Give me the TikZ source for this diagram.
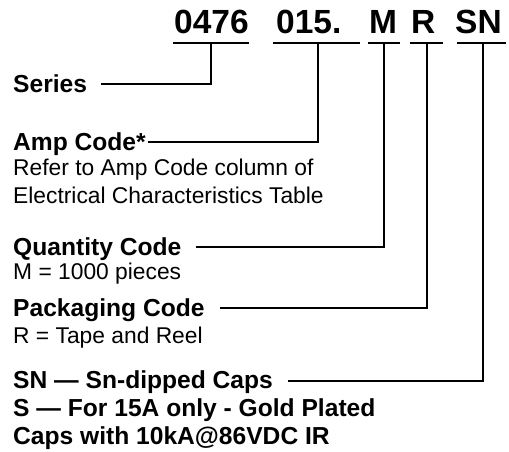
\documentclass[tikz,border=0pt]{standalone}
\usepackage{fontspec}
\setmainfont{Liberation Sans}
\begin{document}
\begin{tikzpicture}[x=1pt,y=-1pt,
  hdr/.style={font=\fontsize{33.5}{34}\selectfont\bfseries, inner sep=0pt, anchor=base west},
  lab/.style={font=\fontsize{24.6}{25}\selectfont\bfseries, inner sep=0pt, anchor=base west},
  sub/.style={font=\fontsize{22.8}{23}\selectfont, inner sep=0pt, anchor=base west},
  uline/.style={line width=2.4pt},
  ln/.style={line width=1.6pt}]
\useasboundingbox (0,0) rectangle (509,451);
% header
\node[hdr] (h1) at (174,33) {0476};
\node[hdr] (h2) at (276,33) {015.};
\node[hdr] (h3) at (369,33) {M};
\node[hdr] (h4) at (411,33) {R};
\node[hdr] (h5) at (455,33) {SN};
% underlines
\draw[uline] (173,43) -- (249,43);
\draw[uline] (273,43) -- (360,43);
\draw[uline] (368,43) -- (400,43);
\draw[uline] (410,43) -- (443,43);
\draw[uline] (457,43) -- (506,43);
\coordinate (u1) at (211,43);
\coordinate (u2) at (318,43);
\coordinate (u3) at (384,43);
\coordinate (u4) at (427,43);
\coordinate (u5) at (483,43);
% labels
\node[lab] (series) at (13,92) {Series};
\node[lab] (amp) at (13,150) {Amp Code*};
\node[sub] (amp1) at (13,175) {Refer to Amp Code column of};
\node[sub] (amp2) at (13,203) {Electrical Characteristics Table};
\node[lab] (qty) at (13,255) {Quantity Code};
\node[sub] (qty1) at (13,279) {M = 1000 pieces};
\node[lab] (pkg) at (13,316) {Packaging Code};
\node[sub] (pkg1) at (13,343) {R = Tape and Reel};
\node[lab] (sn) at (13,388) {SN — Sn-dipped Caps};
\node[lab] (sn1) at (13,416) {S — For 15A only - Gold Plated};
\node[lab] (sn2) at (13,444) {Caps with 10kA@86VDC IR};
% connectors
\draw[ln] ([xshift=14pt,yshift=8pt]series.base east) -| (u1);
\draw[ln] ([xshift=2pt,yshift=8pt]amp.base east) -| (u2);
\draw[ln] ([xshift=14pt,yshift=8pt]qty.base east) -| (u3);
\draw[ln] ([xshift=15pt,yshift=8pt]pkg.base east) -| (u4);
\draw[ln] ([xshift=15pt,yshift=7pt]sn.base east) -| (u5);
\end{tikzpicture}
\end{document}
